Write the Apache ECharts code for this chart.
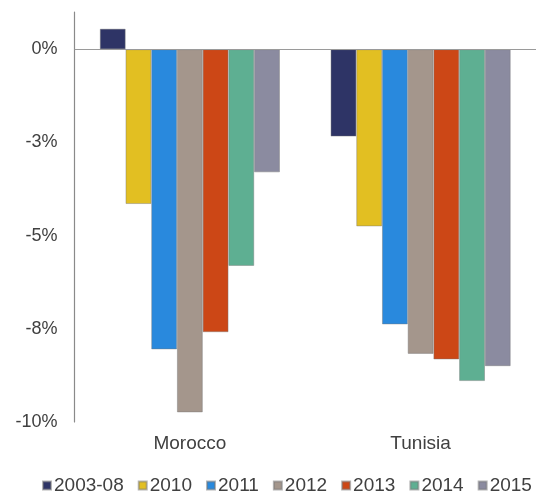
<!DOCTYPE html>
<html>
<head>
<meta charset="utf-8">
<script src="https://cdn.jsdelivr.net/npm/echarts@6/dist/echarts.min.js"></script>
<style>
  html, body { margin: 0; padding: 0; background: #fff; }
  #main { width: 536px; height: 494px; }
</style>
</head>
<body>
<div id="main"></div>
<script>
// countries on the x axis
var countries = ['Morocco', 'Tunisia'];

// one series per period, values in %
var periods = ['2003-08', '2010', '2011', '2012', '2013', '2014', '2015'];
var colors = ['#2e3466', '#e2bf22', '#2989dd', '#a4968c', '#cc4716', '#5eaf92', '#8b8ba0'];

var v200308 = [0.55, -2.34];
var v2010 = [-4.15, -4.75];
var v2011 = [-8.05, -7.38];
var v2012 = [-9.74, -8.17];
var v2013 = [-7.59, -8.32];
var v2014 = [-5.81, -8.90];
var v2015 = [-3.30, -8.50];

var values = [v200308, v2010, v2011, v2012, v2013, v2014, v2015];

var font = 'Liberation Sans, Arial, sans-serif';
var textColor = '#404040';

var series = periods.map(function (p, i) {
    var s = {
        name: p,
        type: 'bar',
        data: values[i],
        barGap: 0,
        barCategoryGap: '22%',
        itemStyle: {color: colors[i], borderColor: 'rgba(120,120,120,0.55)', borderWidth: 0.8}
    };
    if (i === 0) {
        // horizontal line at zero
        s.markLine = {
            silent: true,
            symbol: 'none',
            label: {show: false},
            lineStyle: {color: '#9a9a9a', width: 1.2, type: 'solid'},
            data: [{yAxis: 0}]
        };
    }
    return s;
});

var myChart = echarts.init(document.getElementById('main'));
var option = {
    animation: false,
    color: colors,
    grid: {left: 74.5, right: 0, top: 12, bottom: 72},
    legend: {
        data: periods,
        top: 476,
        left: 42,
        padding: 0,
        icon: 'rect',
        itemWidth: 8,
        itemHeight: 8,
        itemGap: 14,
        textStyle: {fontFamily: font, fontSize: 19, color: textColor, padding: [0, 0, 0, -2]}
    },
    xAxis: {
        type: 'category',
        data: countries,
        axisLine: {show: false, onZero: false},
        axisTick: {show: false},
        axisLabel: {fontFamily: font, fontSize: 19, color: textColor, margin: 12}
    },
    yAxis: {
        type: 'value',
        min: -10,
        max: 1,
        interval: 2.5,
        axisLine: {show: true, lineStyle: {color: '#8a8a8a', width: 1.2}},
        axisTick: {show: false},
        splitLine: {show: false},
        axisLabel: {
            fontFamily: font, fontSize: 18, color: textColor, margin: 17,
            formatter: function (v) {
                if (Math.abs(v % 2.5) > 1e-9) return '';
                return v.toFixed(0) + '%';
            }
        }
    },
    series: series
};

myChart.setOption(option, true);
</script>
</body>
</html>
